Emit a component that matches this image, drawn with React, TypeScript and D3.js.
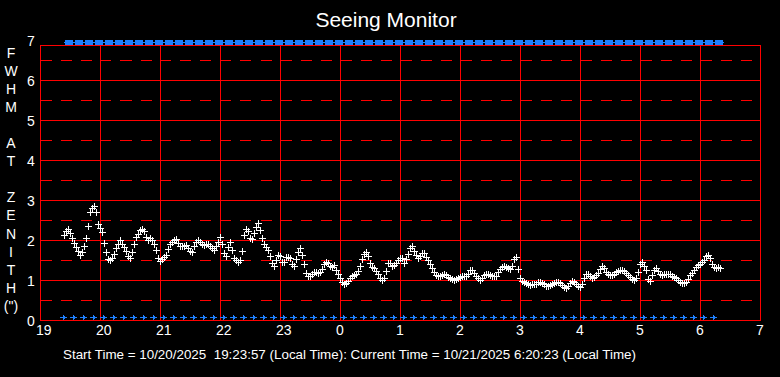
import React from "react";
import * as d3 from "d3";

const W = 780;
const H = 377;

const titleText = "Seeing Monitor";
const footerText =
  "Start Time = 10/20/2025  19:23:57 (Local Time): Current Time = 10/21/2025 6:20:23 (Local Time)";

const startHour = 19;
const endHour = 31;
const sampleStartMin = 24; // minutes after 19:00
const sampleStepMin = 2;

// FWHM at zenith (arcsec), one value every 2 minutes from 19:24
const fwhm = [
  2.13, 2.22, 2.28, 2.18, 2.04, 1.93, 1.83, 1.73, 1.62, 1.70,
  1.86, 2.06, 2.34, 2.70, 2.81, 2.84, 2.71, 2.40, 2.30, 2.20,
  1.92, 1.69, 1.53, 1.50, 1.55, 1.65, 1.79, 1.90, 1.99, 1.90,
  1.82, 1.72, 1.60, 1.56, 1.70, 1.90, 2.08, 2.16, 2.24, 2.28,
  2.22, 2.08, 2.01, 2.04, 2.01, 1.90, 1.75, 1.55, 1.47, 1.52,
  1.58, 1.63, 1.78, 1.90, 1.96, 2.00, 2.03, 1.93, 1.86, 1.84,
  1.85, 1.88, 1.80, 1.72, 1.70, 1.86, 1.95, 2.00, 1.94, 1.90,
  1.88, 1.90, 1.91, 1.85, 1.80, 1.76, 1.85, 1.95, 2.07, 1.90,
  1.68, 1.60, 1.82, 1.96, 1.75, 1.56, 1.50, 1.45, 1.50, 1.72,
  2.12, 2.28, 2.22, 2.04, 2.02, 2.18, 2.33, 2.43, 2.25, 2.05,
  1.90, 1.83, 1.74, 1.60, 1.42, 1.34, 1.50, 1.63, 1.60, 1.45,
  1.45, 1.58, 1.57, 1.54, 1.40, 1.34, 1.52, 1.70, 1.79, 1.63,
  1.40, 1.17, 1.10, 1.10, 1.16, 1.20, 1.19, 1.17, 1.20, 1.28,
  1.41, 1.45, 1.42, 1.36, 1.33, 1.37, 1.25, 1.14, 1.05, 0.96,
  0.90, 0.92, 0.98, 1.06, 1.09, 1.12, 1.14, 1.22, 1.35, 1.52,
  1.66, 1.71, 1.60, 1.42, 1.33, 1.29, 1.23, 1.14, 1.06, 1.00,
  1.04, 1.22, 1.43, 1.42, 1.34, 1.37, 1.43, 1.50, 1.55, 1.54,
  1.43, 1.52, 1.66, 1.80, 1.85, 1.73, 1.62, 1.55, 1.59, 1.68,
  1.67, 1.58, 1.49, 1.41, 1.30, 1.19, 1.12, 1.10, 1.09, 1.12,
  1.14, 1.12, 1.08, 1.05, 1.03, 1.00, 1.02, 1.05, 1.07, 1.09,
  1.10, 1.09, 1.15, 1.26, 1.26, 1.18, 1.11, 1.04, 1.01, 1.06,
  1.13, 1.16, 1.15, 1.13, 1.11, 1.10, 1.11, 1.20, 1.27, 1.33,
  1.36, 1.33, 1.30, 1.28, 1.34, 1.52, 1.58, 1.28, 1.06, 0.97,
  0.94, 0.92, 0.89, 0.88, 0.89, 0.89, 0.89, 0.94, 0.96, 0.93,
  0.89, 0.86, 0.86, 0.87, 0.90, 0.92, 0.94, 0.96, 0.93, 0.88,
  0.82, 0.80, 0.86, 0.93, 0.97, 0.94, 0.89, 0.85, 0.83, 0.90,
  1.05, 1.15, 1.15, 1.10, 1.04, 1.07, 1.13, 1.18, 1.28, 1.36,
  1.30, 1.21, 1.16, 1.13, 1.13, 1.15, 1.19, 1.23, 1.25, 1.25,
  1.23, 1.18, 1.13, 1.07, 1.03, 1.00, 1.04, 1.20, 1.40, 1.46,
  1.36, 1.25, 1.03, 0.98, 1.12, 1.25, 1.29, 1.23, 1.16, 1.13,
  1.14, 1.16, 1.16, 1.14, 1.11, 1.08, 1.04, 0.99, 0.95, 0.93,
  0.92, 0.96, 1.03, 1.12, 1.17, 1.26, 1.32, 1.37, 1.41, 1.45,
  1.50, 1.60, 1.63, 1.55, 1.40, 1.32, 1.31, 1.32, 1.29,
];

// status marks (minutes after 19:00), drawn in blue at the bottom and top
const statusMarkMin = [
  23, 33, 43, 53, 63, 73, 83, 93, 103, 113, 123, 133, 143, 153, 163, 173,
  183, 193, 203, 213, 223, 233, 243, 253, 263, 273, 283, 293, 303, 313, 323,
  333, 343, 353, 363, 373, 383, 393, 403, 413, 423, 433, 443, 453, 463, 473,
  483, 493, 503, 513, 523, 533, 543, 553, 563, 573, 583, 593, 603, 613, 623,
  633, 643, 653, 663, 673,
];
const bottomMarkValue = 0.075;
const topMarkValue = 6.95;

const xTickLabels = ["19", "20", "21", "22", "23", "0", "1", "2", "3", "4", "5", "6", "7"];
const yTickValues = [0, 1, 2, 3, 4, 5, 6, 7];
const yGridSolid = [1, 2, 3, 4, 5, 6];
const yGridDashed = [0.5, 1.5, 2.5, 3.5, 4.5, 5.5, 6.5];
const yTitleLetters = ["F", "W", "H", "M", "", "A", "T", "", "Z", "E", "N", "I", "T", "H", "(\")"];
const frameTopValue = 6.875;

const RED = "#ff0000";
const BLUE = "#1e80ff";
const FONT = "'Liberation Sans', Arial, sans-serif";

export default function App() {
  const xs = d3.scaleLinear().domain([startHour, endHour]).range([40.5, 760.5]);
  const ys = d3.scaleLinear().domain([0, 7]).range([320.5, 40.5]);
  const left = xs(startHour);
  const right = xs(endHour);
  const bottom = ys(0);
  const top = ys(frameTopValue);

  const hourOf = (min: number) => startHour + min / 60;

  // data markers
  let dataPath = "";
  fwhm.forEach((v, i) => {
    const m = sampleStartMin + i * sampleStepMin;
    const cx = Math.floor(xs(hourOf(m)));
    const cy = Math.floor(ys(v));
    dataPath += `M${cx - 3},${cy + 0.5}h7M${cx + 0.5},${cy - 3}v7`;
  });

  let bottomPath = "";
  statusMarkMin.forEach((m) => {
    const cx = Math.floor(xs(hourOf(m)));
    const cy = Math.floor(ys(bottomMarkValue));
    bottomPath += `M${cx - 3},${cy + 0.5}h7M${cx + 0.5},${cy - 2}v5M${cx + 1.5},${cy - 1}v3`;
  });

  const topRects: JSX.Element[] = [];
  let topLine = "";
  const tcy = Math.floor(ys(topMarkValue));
  statusMarkMin.forEach((m, i) => {
    const cx = Math.floor(xs(hourOf(m + 6)));
    topRects.push(
      <rect key={i} x={cx - 4} y={tcy - 2} width={8} height={5} fill={BLUE} />
    );
    topLine += `M${cx - 5},${tcy + 0.5}h10`;
  });

  const hours = xTickLabels.map((_, i) => startHour + i);

  return (
    <svg
      width={W}
      height={H}
      style={{ position: "absolute", left: 0, top: 0, background: "#000" }}
      fontFamily={FONT}
    >
      <rect x={0} y={0} width={W} height={H} fill="#000" />
      <text x={386} y={27} fill="#fff" fontSize={21} textAnchor="middle">
        {titleText}
      </text>

      <g shapeRendering="crispEdges">
        {yGridDashed.map((v) => (
          <line
            key={"d" + v}
            x1={left}
            x2={right}
            y1={ys(v)}
            y2={ys(v)}
            stroke={RED}
            strokeWidth={1}
            strokeDasharray="11,9"
          />
        ))}
        {yGridSolid.map((v) => (
          <line key={"s" + v} x1={left} x2={right} y1={ys(v)} y2={ys(v)} stroke={RED} strokeWidth={1} />
        ))}
        {hours.map((h) => (
          <line key={"v" + h} x1={xs(h)} x2={xs(h)} y1={top} y2={bottom} stroke={RED} strokeWidth={1} />
        ))}
        <rect x={left} y={top} width={right - left} height={bottom - top} fill="none" stroke={RED} strokeWidth={1} />

        <path d={dataPath} stroke="#fff" strokeWidth={1} fill="none" />
        <path d={bottomPath} stroke={BLUE} strokeWidth={1} fill="none" />
        {topRects}
        <path d={topLine} stroke={BLUE} strokeWidth={1} fill="none" />
      </g>

      {yTickValues.map((v) => (
        <text key={"yl" + v} x={31} y={ys(v) + 5} fill="#fff" fontSize={14} textAnchor="middle">
          {v}
        </text>
      ))}
      {xTickLabels.map((lab, i) => (
        <text key={"xl" + i} x={xs(hours[i]) - 4.5} y={335} fill="#fff" fontSize={14} textAnchor="start">
          {lab}
        </text>
      ))}
      {yTitleLetters.map((ch, i) =>
        ch ? (
          <text key={"yt" + i} x={11} y={57.5 + i * 18.1} fill="#fff" fontSize={14} textAnchor="middle">
            {ch}
          </text>
        ) : null
      )}
      <text
        x={63}
        y={359}
        fill="#fff"
        fontSize={12}
        textLength={573}
        lengthAdjust="spacingAndGlyphs"
        style={{ whiteSpace: "pre" }}
      >
        {footerText}
      </text>
    </svg>
  );
}
